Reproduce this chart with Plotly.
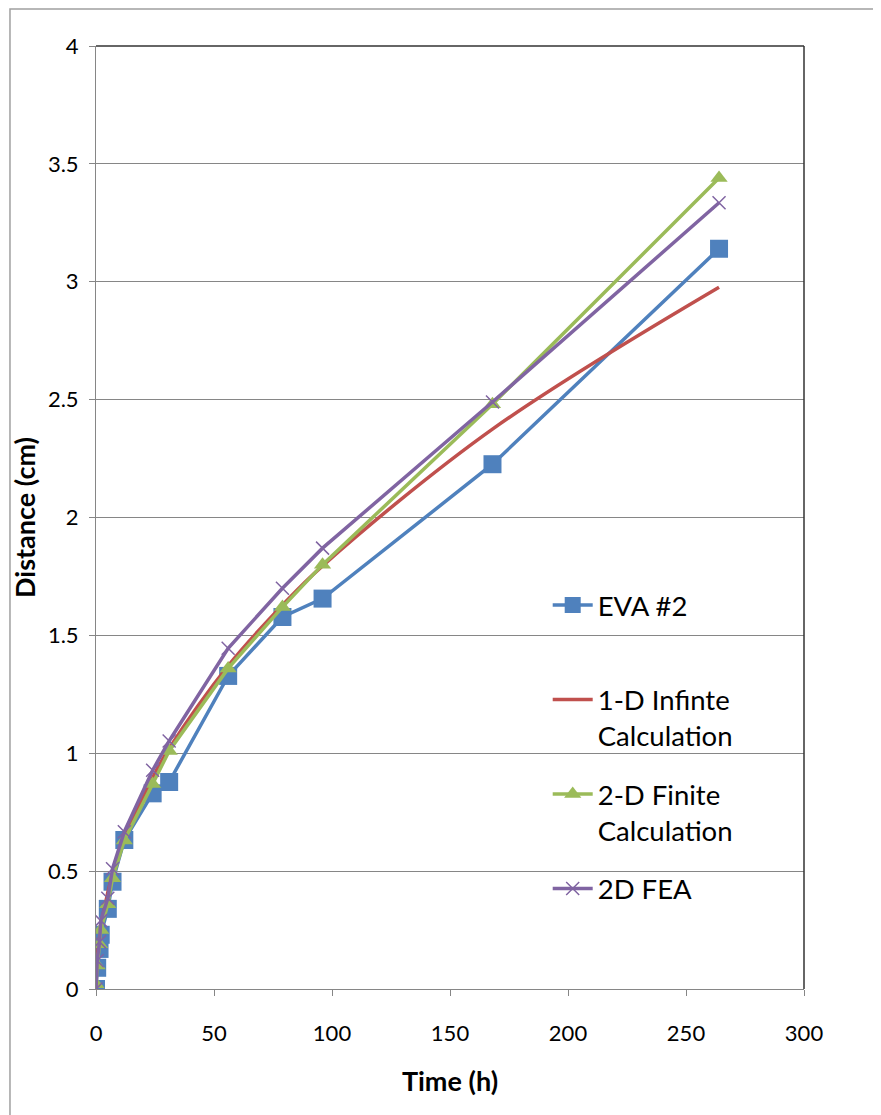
import plotly.graph_objects as go

time_h = [0, 0.5, 1.5, 2, 5, 7, 12, 24, 31, 56, 79, 96, 168, 264]
eva2 = [0.0, 0.09, 0.17, 0.23, 0.34, 0.455, 0.632, 0.83, 0.878, 1.328, 1.578, 1.656, 2.226, 3.14]
inf_1d = [0.0, 0.13, 0.22, 0.26, 0.41, 0.485, 0.635, 0.897, 1.02, 1.371, 1.628, 1.795, 2.375, 2.977]
fin_2d = [0.02, 0.1, 0.19, 0.25, 0.36, 0.47, 0.63, 0.87, 1.01, 1.36, 1.62, 1.80, 2.48, 3.44]
fea_2d = [0.0, 0.12, 0.2, 0.29, 0.385, 0.51, 0.667, 0.928, 1.052, 1.445, 1.70, 1.87, 2.49, 3.335]

series_names = ["EVA #2<br> ", "1-D Infinte<br>Calculation", "2-D Finite<br>Calculation", "2D FEA"]
x_ticks = [0, 50, 100, 150, 200, 250, 300]
y_ticks = [0, 0.5, 1, 1.5, 2, 2.5, 3, 3.5, 4]
y_tick_text = ["0", "0.5", "1", "1.5", "2", "2.5", "3", "3.5", "4"]

FONT = "Lato, Carlito, Calibri, sans-serif"

fig = go.Figure()
fig.add_trace(go.Scatter(x=time_h, y=eva2, name=series_names[0], mode="lines+markers",
                         line=dict(color="#4F81BD", width=3.5),
                         marker=dict(symbol="square", size=18, color="#4F81BD"),
                         legendgroup="a"))
fig.add_trace(go.Scatter(x=time_h, y=inf_1d, name=series_names[1], mode="lines",
                         line=dict(color="#C0504D", width=3.5, shape="spline"),
                         legendgroup="b"))
fig.add_trace(go.Scatter(x=time_h, y=fin_2d, name=series_names[2], mode="lines+markers",
                         line=dict(color="#9BBB59", width=3.5),
                         marker=dict(symbol="triangle-up", size=15, color="#9BBB59"),
                         legendgroup="c"))
fig.add_trace(go.Scatter(x=time_h, y=fea_2d, name=series_names[3], mode="lines+markers",
                         line=dict(color="#8064A2", width=3.5),
                         marker=dict(symbol="x-thin", size=13, color="#8064A2",
                                     line=dict(color="#8064A2", width=1.5)),
                         legendgroup="d"))

fig.update_layout(
    width=881, height=1115,
    margin=dict(l=88, r=85, t=38, b=134),
    paper_bgcolor="white", plot_bgcolor="white",
    font=dict(family=FONT, size=20, color="black"),
    showlegend=True,
    legend=dict(x=0.638, y=0.433, xanchor="left", yanchor="top",
                bgcolor="rgba(0,0,0,0)", font=dict(size=27.5, family=FONT),
                tracegroupgap=20, valign="top", itemwidth=40),
    xaxis=dict(range=[0, 300], tickvals=x_ticks, showgrid=False, zeroline=False,
               showline=True, linecolor="#868686", linewidth=1,
               ticks="outside", ticklen=6, tickcolor="#868686",
               ticklabelstandoff=19, automargin=False,
               tickfont=dict(size=22),
               title=dict(text="<b>Time (h)</b>", font=dict(size=27), standoff=26)),
    yaxis=dict(range=[0, 4], tickvals=y_ticks, ticktext=y_tick_text,
               showgrid=True, gridcolor="#868686", gridwidth=1, zeroline=False,
               showline=True, linecolor="#868686", linewidth=1,
               ticks="outside", ticklen=6, tickcolor="#868686",
               ticklabelstandoff=6, automargin=False,
               tickfont=dict(size=22),
               title=dict(text="<b>Distance (cm)</b>", font=dict(size=27), standoff=5)),
)

# plot-area top/right border
fig.add_shape(type="line", xref="paper", yref="paper", x0=0, x1=1, y0=1, y1=1,
              line=dict(color="#333333", width=1.5))
fig.add_shape(type="line", xref="paper", yref="paper", x0=1, x1=1, y0=0, y1=1,
              line=dict(color="#333333", width=1.5))
# outer chart border
fig.add_shape(type="rect", xref="paper", yref="paper", x0=-0.1215, x1=1.2, y0=-0.2, y1=1.0392,
              line=dict(color="#A0A0A0", width=1.5), layer="below")

fig.write_html("out.html")
